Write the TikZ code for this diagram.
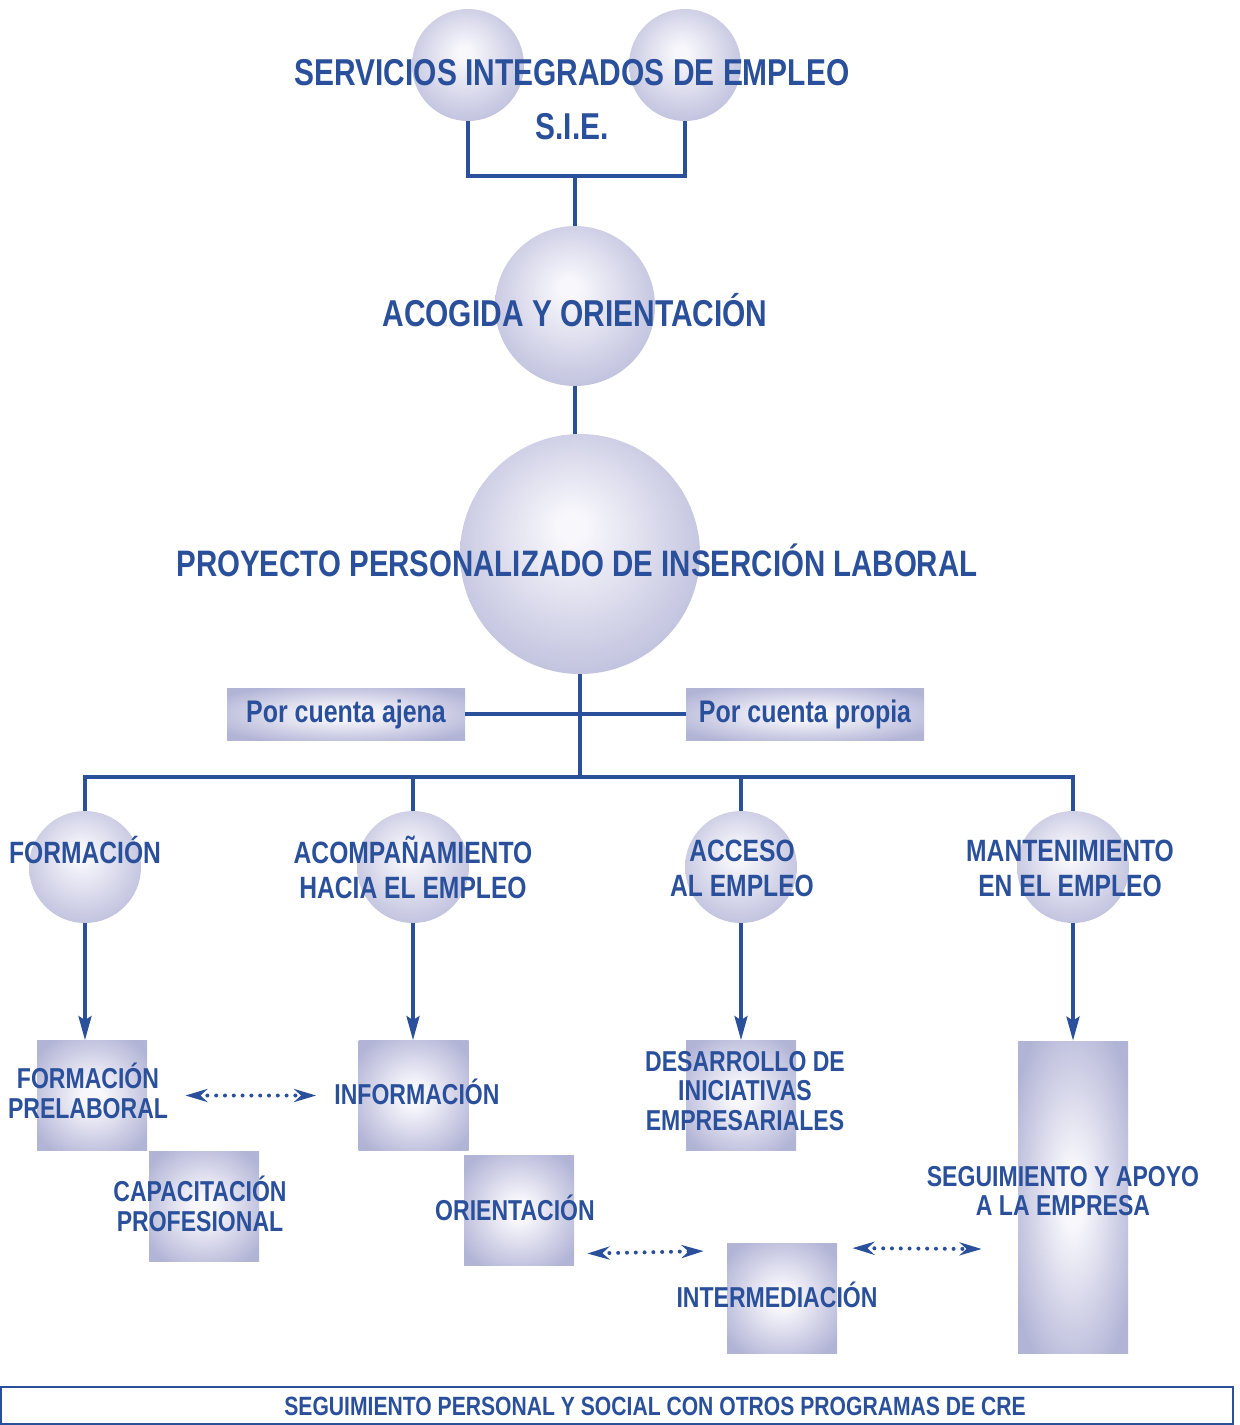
\documentclass[tikz,border=0pt]{standalone}
\usepackage{fontspec}
\setmainfont[FakeStretch=0.8]{Liberation Sans}
\usepackage{xcolor}
\usetikzlibrary{arrows.meta}
\definecolor{sieblue}{RGB}{42,80,155}
\definecolor{lav}{RGB}{178,180,214}
\definecolor{glow}{RGB}{248,247,252}
\pgfdeclareradialshading{sphereshade}{\pgfpoint{-2bp}{6bp}}{color(0bp)=(glow); color(3bp)=(glow); color(35bp)=(lav); color(50bp)=(lav)}
\pgfdeclareradialshading{glowshade}{\pgfpointorigin}{color(0bp)=(glow); color(5bp)=(glow); color(31bp)=(lav); color(50bp)=(lav)}

\begin{document}
\begin{tikzpicture}[x=0.5pt,y=-0.5pt,
 orb/.style={circle, shading=sphereshade, inner sep=0pt, minimum size=#1},
 panel/.style={rectangle, shading=glowshade, inner sep=0pt, minimum width=55pt, minimum height=#1},
 tag/.style={rectangle, shading=glowshade, minimum width=119pt, minimum height=26pt, text=sieblue, font=\bfseries\fontsize{15.6}{18}\selectfont},
 head/.style={text=sieblue, align=center, inner sep=0pt, font=\bfseries\fontsize{18.7}{27}\selectfont},
 rowlbl/.style={text=sieblue, align=center, inner sep=0pt, font=\bfseries\fontsize{15.4}{17.5}\selectfont},
 boxlbl/.style={text=sieblue, align=center, inner sep=0pt, font=\bfseries\fontsize{14.4}{14.7}\selectfont},
 link/.style={draw=sieblue, line width=1.7pt},
 flow/.style={link, -{Stealth[length=12pt,width=6.5pt,inset=2pt]}},
 dotlink/.style={draw=sieblue, line width=2pt, line cap=round, dash pattern=on 0pt off 4.4pt,
   {Stealth[length=11pt,width=6.5pt,inset=3.5pt,line cap=butt]}-{Stealth[length=11pt,width=6.5pt,inset=3.5pt,line cap=butt]}}]
\useasboundingbox (0,0) rectangle (1239,1425);

\node[orb=56pt] (sieL) at (468,65) {};
\node[orb=56pt] (sieR) at (685,65) {};
\node[head] (sie) at (572,100) {SERVICIOS INTEGRADOS DE EMPLEO\\S.I.E.};
\node[orb=80pt] (acog) at (575,306) {};
\node[head] (acog-t) at (575,310) {ACOGIDA Y ORIENTACIÓN};
\node[orb=120pt] (ppil) at (580,554) {};
\node[head, font=\bfseries\fontsize{18.4}{27}\selectfont] (ppil-t) at (577,560) {PROYECTO PERSONALIZADO DE INSERCIÓN LABORAL};
\node[tag] (ajena) at (346,714) {Por cuenta ajena};
\node[tag] (propia) at (805,714) {Por cuenta propia};

\node[orb=56pt] (fo) at (85,867) {};
\node[orb=56pt] (acomp) at (413,867) {};
\node[orb=56pt] (acceso) at (741,867) {};
\node[orb=56pt] (mant) at (1073,867) {};
\node[rowlbl] (fo-t) at (85,850) {FORMACIÓN};
\node[rowlbl] (acomp-t) at (413,867) {ACOMPAÑAMIENTO\\HACIA EL EMPLEO};
\node[rowlbl] (acceso-t) at (742,868) {ACCESO\\AL EMPLEO};
\node[rowlbl] (mant-t) at (1070,868) {MANTENIMIENTO\\EN EL EMPLEO};

\node[panel=55pt] (fp) at (92,1095.5) {};
\node[panel=55pt] (inf) at (413.5,1095.5) {};
\node[panel=55pt] (dei) at (741,1095.5) {};
\node[panel=156pt] (sae) at (1073,1197) {};
\node[panel=55pt] (cap) at (204,1206.5) {};
\node[panel=55pt] (ori) at (519,1210.5) {};
\node[panel=55pt] (inter) at (782,1298.5) {};
\node[boxlbl] (fp-t) at (88,1091) {FORMACIÓN\\PRELABORAL};
\node[boxlbl] (inf-t) at (417,1092) {INFORMACIÓN};
\node[boxlbl] (dei-t) at (745,1091) {DESARROLLO DE\\INICIATIVAS\\EMPRESARIALES};
\node[boxlbl] (sae-t) at (1063,1191) {SEGUIMIENTO Y APOYO\\A LA EMPRESA};
\node[boxlbl] (cap-t) at (200,1204) {CAPACITACIÓN\\PROFESIONAL};
\node[boxlbl] (ori-t) at (515,1208) {ORIENTACIÓN};
\node[boxlbl] (inter-t) at (777,1295) {INTERMEDIACIÓN};

\node[draw=sieblue, line width=0.8pt, minimum width=616pt, minimum height=18.5pt, inner sep=0pt] (cre) at (617,1405.5) {};
\node[text=sieblue, inner sep=0pt, font=\bfseries\fontsize{13.2}{16}\selectfont] (cre-t) at (655,1406) {SEGUIMIENTO PERSONAL Y SOCIAL CON OTROS PROGRAMAS DE CRE};

\coordinate (fork) at (575,176);
\coordinate (hub) at (580,777);
\draw[link] (sieL) |- (fork) -| (sieR);
\draw[link] (fork) -- (acog);
\draw[link] (acog) -- (acog |- ppil.north);
\draw[link] (ppil) -- (hub);
\draw[link] (ajena) -- (propia);
\draw[link] (fo) -- (fo |- hub) -- (mant |- hub) -- (mant);
\draw[link] (acomp) -- (acomp |- hub);
\draw[link] (acceso) -- (acceso |- hub);

\draw[flow] (fo) -- (fo |- fp.north);
\draw[flow] (acomp) -- (acomp |- inf.north);
\draw[flow] (acceso) -- (acceso |- dei.north);
\draw[flow] (mant) -- (mant |- sae.north);

\draw[dotlink] ([shift={(38,0)}]fp.east) -- ([shift={(-42,0)}]inf.west);
\draw[dotlink] ([shift={(13,43)}]ori.east) -- ([shift={(-23,8)}]inter.north west);
\draw[dotlink] ([shift={(15,5)}]inter.north east) -- ([shift={(-36,52)}]sae.west);
\end{tikzpicture}
\end{document}
